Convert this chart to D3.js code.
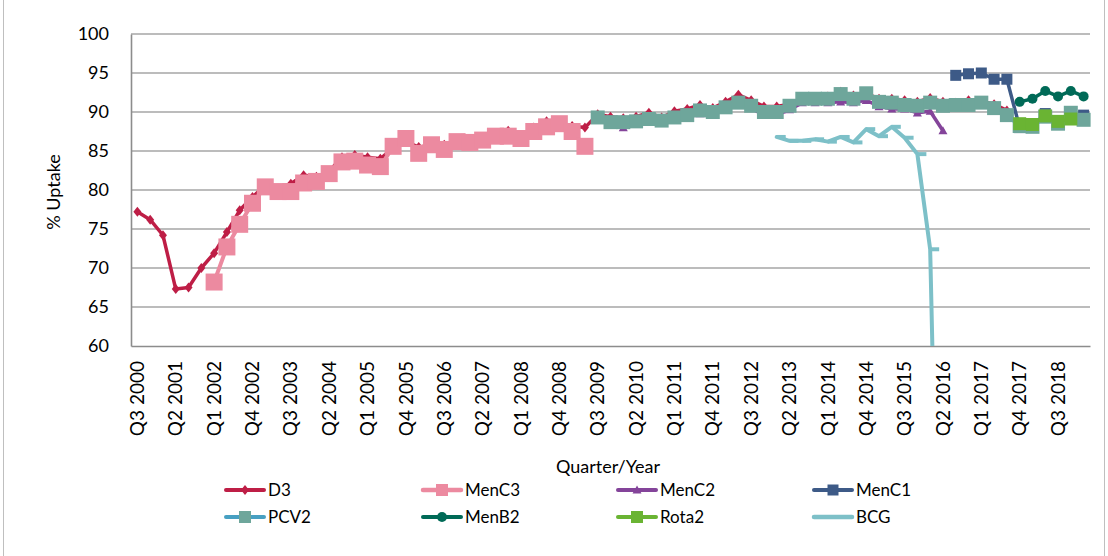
<!DOCTYPE html>
<html><head><meta charset="utf-8">
<script src="https://cdn.jsdelivr.net/npm/d3@7"></script>
<style>
body{margin:0;background:#fff;}
text{font-family:Lato,"Open Sans",sans-serif;fill:#000;}
</style></head>
<body><svg id="chart" width="1108" height="556"></svg>
<script>
// ---------- DATA ----------
const categories = [
 "Q3 2000","Q4 2000","Q1 2001","Q2 2001","Q3 2001","Q4 2001","Q1 2002","Q2 2002","Q3 2002","Q4 2002",
 "Q1 2003","Q2 2003","Q3 2003","Q4 2003","Q1 2004","Q2 2004","Q3 2004","Q4 2004","Q1 2005","Q2 2005",
 "Q3 2005","Q4 2005","Q1 2006","Q2 2006","Q3 2006","Q4 2006","Q1 2007","Q2 2007","Q3 2007","Q4 2007",
 "Q1 2008","Q2 2008","Q3 2008","Q4 2008","Q1 2009","Q2 2009","Q3 2009","Q4 2009","Q1 2010","Q2 2010",
 "Q3 2010","Q4 2010","Q1 2011","Q2 2011","Q3 2011","Q4 2011","Q1 2012","Q2 2012","Q3 2012","Q4 2012",
 "Q1 2013","Q2 2013","Q3 2013","Q4 2013","Q1 2014","Q2 2014","Q3 2014","Q4 2014","Q1 2015","Q2 2015",
 "Q3 2015","Q4 2015","Q1 2016","Q2 2016","Q3 2016","Q4 2016","Q1 2017","Q2 2017","Q3 2017","Q4 2017",
 "Q1 2018","Q2 2018","Q3 2018","Q4 2018","Q1 2019"
];
const tickLabels = [
 "Q3 2000","Q2 2001","Q1 2002","Q4 2002","Q3 2003","Q2 2004","Q1 2005","Q4 2005","Q3 2006","Q2 2007",
 "Q1 2008","Q4 2008","Q3 2009","Q2 2010","Q1 2011","Q4 2011","Q3 2012","Q2 2013","Q1 2014","Q4 2014",
 "Q3 2015","Q2 2016","Q1 2017","Q4 2017","Q3 2018"
];
const yTicks = [60,65,70,75,80,85,90,95,100];

const d3Start = "Q3 2000";
const d3Values = [77.2,76.2,74.2,67.3,67.5,70.0,71.9,74.6,77.4,79.1,
 80.6,80.2,80.8,81.9,81.7,82.4,84.2,84.5,84.2,84.0,
 85.4,86.2,85.5,85.8,85.8,86.4,86.5,86.8,87.0,87.6,
 87.0,88.0,88.8,88.6,88.2,88.0,89.7,89.4,89.2,89.4,
 89.9,89.3,90.1,90.4,90.9,90.5,91.3,92.2,91.5,90.7,
 90.7,91.0,91.8,91.9,92.0,92.6,92.1,92.4,91.7,91.7,
 91.5,91.3,91.8,91.3,91.2,91.5,91.4,91.0,90.2];

const menC3Start = "Q1 2002";
const menC3Values = [68.2,72.7,75.6,78.3,80.4,79.8,79.8,80.9,81.1,82.1,
 83.6,83.7,83.2,83.0,85.6,86.6,84.7,85.8,85.2,86.2,
 86.1,86.4,86.9,86.9,86.6,87.5,88.1,88.5,87.5,85.6];

const menC2Start = "Q3 2009";
const menC2Values = [89.0,88.4,88.0,88.4,88.8,88.6,89.0,89.3,89.8,89.7,
 90.3,90.9,90.5,89.6,89.6,90.3,91.2,91.2,91.2,91.3,
 91.2,91.5,90.7,90.4,90.4,89.9,90.1,87.6];

const menC1Start = "Q3 2016";
const menC1Values = [94.7,94.9,95.0,94.2,94.2,88.0,88.2,89.8,88.7,89.7,89.6];

const pcv2Start = "Q3 2009";
const pcv2Values = [89.3,88.7,88.7,88.8,89.1,88.9,89.3,89.6,90.2,90.0,
 90.6,91.2,90.8,90.0,90.0,90.8,91.7,91.7,91.7,92.3,
 91.7,92.4,91.3,91.2,90.9,90.8,91.2,90.8,90.9,90.9,
 91.2,90.5,89.6,88.2,88.1,89.4,88.5,89.9,89.0];

const menB2Start = "Q4 2017";
const menB2Values = [91.3,91.7,92.7,92.0,92.7,92.0];

const rota2Start = "Q4 2017";
const rota2Values = [88.5,88.4,89.5,88.8,89.1];

const bcgStart = "Q1 2013";
const bcgValues = [86.8,86.3,86.3,86.5,86.2,86.8,86.1,87.8,86.9,88.1,86.7,84.6,72.4,0];

// ---------- STYLE / SERIES CONFIG ----------
const series = [
 {name:"D3",    start:d3Start,    values:d3Values,    line:"#BE1E46", fill:"#BE1E46", marker:"diamond",  size:10, width:3.5},
 {name:"MenC3", start:menC3Start, values:menC3Values, line:"#EC8AA0", fill:"#EC8AA0", marker:"square",   size:17, width:4},
 {name:"MenC2", start:menC2Start, values:menC2Values, line:"#84449A", fill:"#84449A", marker:"triangle", size:9,  width:3.5},
 {name:"MenC1", start:menC1Start, values:menC1Values, line:"#3D5A87", fill:"#3D5A87", marker:"square",   size:11, width:3.5},
 {name:"PCV2",  start:pcv2Start,  values:pcv2Values,  line:"#47A0C2", fill:"#6EA69B", marker:"square",   size:14, width:3.5},
 {name:"MenB2", start:menB2Start, values:menB2Values, line:"#006A57", fill:"#006A57", marker:"circle",   size:10, width:3.5},
 {name:"Rota2", start:rota2Start, values:rota2Values, line:"#6AB433", fill:"#6AB433", marker:"square",   size:13, width:3.5},
 {name:"BCG",   start:bcgStart,   values:bcgValues,   line:"#7DC0C8", fill:"#7DC0C8", marker:"dash",     size:9,  width:4}
];

const svg = d3.select("#chart");
const M = {left:131, right:1090, top:34, bottom:346};

const x = d3.scaleBand().domain(categories).range([M.left, M.right]).padding(0);
const cx = c => x(c) + x.bandwidth()/2;
const y = d3.scaleLinear().domain([60,100]).range([M.bottom, M.top]);

// outer chart frame
svg.append("line").attr("x1",3.5).attr("x2",3.5).attr("y1",0).attr("y2",556).attr("stroke","#BFBFBF").attr("stroke-width",1);
svg.append("line").attr("x1",1104.5).attr("x2",1104.5).attr("y1",0).attr("y2",556).attr("stroke","#BFBFBF").attr("stroke-width",1);

// gridlines
svg.append("g").selectAll("line").data(yTicks.filter(v=>v>60)).join("line")
 .attr("x1",M.left).attr("x2",M.right)
 .attr("y1",d=>y(d)).attr("y2",d=>y(d))
 .attr("stroke","#A6A6A6").attr("stroke-width",1.6);

// y axis
const yAxis = d3.axisLeft(y).tickValues(yTicks).tickSize(0).tickPadding(22);
const gy = svg.append("g").attr("transform",`translate(${M.left},0)`).call(yAxis);
gy.select(".domain").attr("stroke","#8C8C8C").attr("stroke-width",1.6);
gy.selectAll("text").style("font-size","18px").style("font-family","Lato, sans-serif").attr("fill","#000");

// x axis
const xAxis = d3.axisBottom(x).tickValues(tickLabels).tickSize(0).tickPadding(0);
const gx = svg.append("g").attr("transform",`translate(0,${M.bottom})`).call(xAxis);
gx.select(".domain").attr("stroke","#8C8C8C").attr("stroke-width",1.6);
gx.selectAll("text")
 .style("font-size","19px").style("font-family","Lato, sans-serif").attr("fill","#000")
 .attr("text-anchor","end")
 .attr("dy","0.35em")
 .attr("transform","translate(0,15) rotate(-90)")
 .attr("x",0).attr("y",0);

// axis titles
svg.append("text").attr("x",608).attr("y",473).attr("text-anchor","middle")
 .style("font-size","18px").text("Quarter/Year");
svg.append("text").attr("transform","translate(60,192) rotate(-90)").attr("text-anchor","middle")
 .style("font-size","18px").text("% Uptake");

// clip
svg.append("defs").append("clipPath").attr("id","plotclip")
 .append("rect").attr("x",M.left).attr("y",M.top-20).attr("width",M.right-M.left+10).attr("height",M.bottom-M.top+20);

function markerPath(type, s){
  const h = s/2;
  if(type==="diamond") return `M0,${-h}L${h*0.8},0L0,${h}L${-h*0.8},0Z`;
  if(type==="square") return `M${-h},${-h}H${h}V${h}H${-h}Z`;
  if(type==="triangle") return `M0,${-h}L${h},${h*0.8}L${-h},${h*0.8}Z`;
  if(type==="circle") return d3.symbol(d3.symbolCircle, Math.PI*h*h)();
  if(type==="dash") return `M0,-2H${s}V2H0Z`;
  return "";
}

const plot = svg.append("g").attr("clip-path","url(#plotclip)");
series.forEach(s=>{
  const i0 = categories.indexOf(s.start);
  const pts = s.values.map((v,k)=>({c:categories[i0+k], v}));
  const line = d3.line().x(d=>cx(d.c)).y(d=>y(d.v));
  const g = plot.append("g");
  g.append("path").datum(pts).attr("d",line).attr("fill","none")
   .attr("stroke",s.line).attr("stroke-width",s.width).attr("stroke-linejoin","round").attr("stroke-linecap","round");
  if(s.marker!=="none"){
    g.selectAll("path.m").data(pts).join("path").attr("class","m")
     .attr("transform",d=>`translate(${cx(d.c)},${y(d.v)})`)
     .attr("d",markerPath(s.marker,s.size)).attr("fill",s.fill).attr("stroke","none");
  }
});

// legend
const legX = [224,421,616,812];
const legY = [490,517];
const leg = svg.append("g");
series.forEach((s,k)=>{
  const lx = legX[k%4], ly = legY[Math.floor(k/4)];
  const g = leg.append("g").attr("transform",`translate(${lx},${ly})`);
  g.append("line").attr("x1",2).attr("x2",40).attr("y1",0).attr("y2",0)
   .attr("stroke",s.line).attr("stroke-width",s.width+0.5).attr("stroke-linecap","round");
  if(s.marker!=="none" && s.marker!=="dash"){
    g.append("path").attr("transform","translate(21,0)")
     .attr("d",markerPath(s.marker, Math.min(s.size,12))).attr("fill",s.fill);
  }
  g.append("text").attr("x",44).attr("y",0).attr("dy","0.35em").style("font-size","17px").text(s.name);
});
</script></body></html>
